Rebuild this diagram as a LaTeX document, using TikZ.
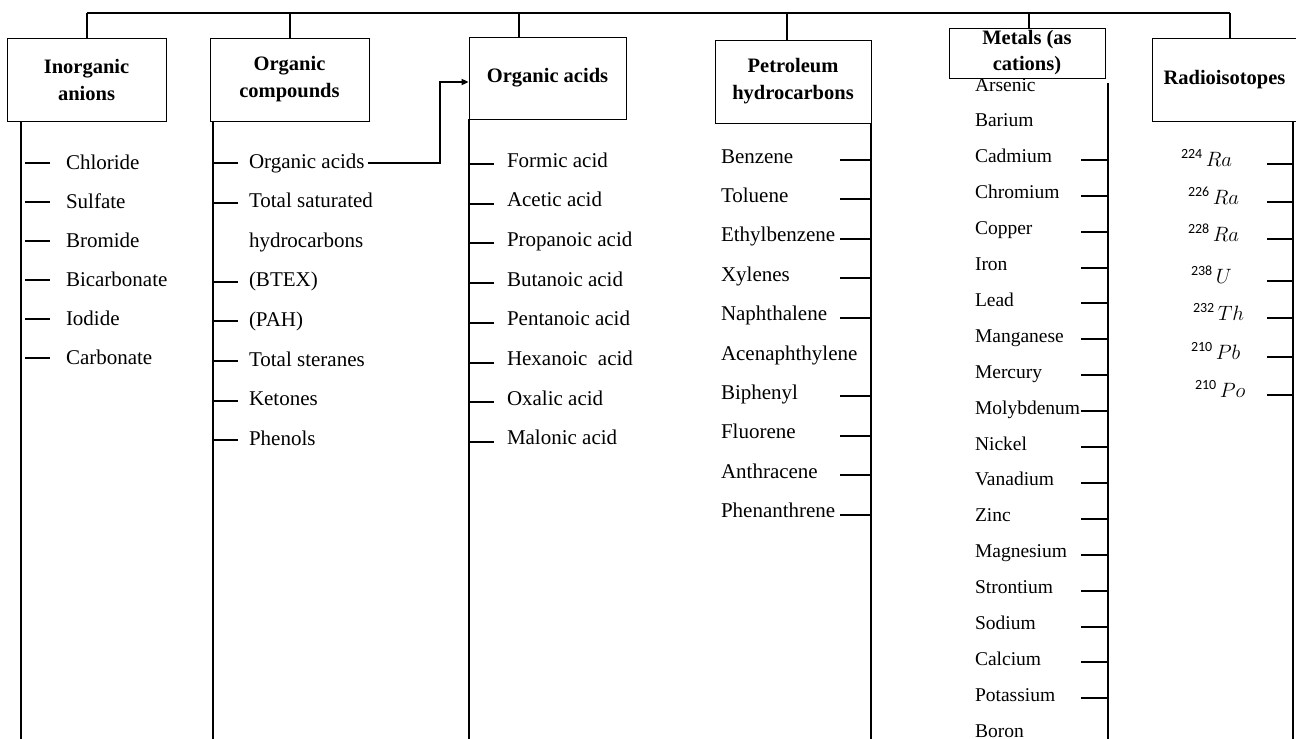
\documentclass[tikz,border=0pt]{standalone}
\usepackage{fontspec}
\setmainfont{Liberation Serif}
\newfontfamily\numfont{Carlito}
\usetikzlibrary{arrows.meta}
\begin{document}
\begin{tikzpicture}[
        x=1pt, y=-1pt,
        line width=2pt,
        header/.style={draw, line width=0.8pt, inner sep=0pt, align=center,
            font=\fontsize{20.5}{27}\selectfont\bfseries},
        entry/.style={anchor=west, inner sep=0pt, text height=12pt, text depth=0pt,
            font=\fontsize{21}{25}\selectfont},
        metal/.style={entry, font=\fontsize{19.5}{24}\selectfont},
        link/.style={-{Triangle[length=7pt,width=6pt]}},
    ]
    \useasboundingbox (0,0) rectangle (1296,739);
    \node[header, minimum width=159pt, minimum height=83pt] (inorg) at (86.5,79.5) {Inorganic\\anions};
    \node[header, minimum width=159pt, minimum height=83pt] (orgcomp) at (289.5,79.5) {Organic\\compounds};
    \node[header, minimum width=157pt, minimum height=82pt] (orgacid) at (547.5,78) {Organic acids};
    \node[header, minimum width=156pt, minimum height=83pt] (petro) at (793,81.5) {Petroleum\\hydrocarbons};
    \node[header, minimum width=156pt, minimum height=50pt,
        font=\fontsize{20.5}{26}\selectfont\bfseries] (metals) at (1027,53) {Metals (as\\cations)};
    \node[header, minimum width=145pt, minimum height=83pt] (radio) at (1224.5,79.5) {Radioisotopes};

    % top bus
    \coordinate (b1) at (87,13);
    \coordinate (b2) at (290,13);
    \coordinate (b3) at (519,13);
    \coordinate (b4) at (787,13);
    \coordinate (b5) at (1029,13);
    \coordinate (b6) at (1230,13);
    \draw (b1) -- (b6);
    \foreach \b/\n in {b1/inorg, b2/orgcomp, b3/orgacid, b4/petro, b5/metals, b6/radio}
        \draw (\b) -- (\b |- \n.north);

    % spines
    \coordinate (e1) at (21,739);
    \coordinate (e2) at (213,739);
    \coordinate (e3) at (469,739);
    \coordinate (e4) at (871,739);
    \coordinate (e5) at (1108,739);
    \coordinate (e6) at (1293,739);
    \draw (e1 |- inorg.south) -- (e1);
    \draw (e2 |- orgcomp.south) -- (e2);
    \draw (e3 |- orgacid.south) -- (e3);
    \draw (e4 |- petro.south) -- (e4);
    \draw ([yshift=-5pt]e5 |- metals.south) -- (e5);
    \draw (e6 |- radio.south) -- (e6);

    \foreach \t [count=\i from 0] in {Chloride, Sulfate, Bromide, Bicarbonate, Iodide, Carbonate}{
        \node[entry] (an\i) at (65,{163+39*\i}) {\t};
        \draw (e1 |- an\i.west) ++(4,0) -- ++(25,0);
    }

    \foreach \t/\k [count=\i from 0] in {Organic acids/1, Total saturated/1, hydrocarbons/0, (BTEX)/1,
            (PAH)/1, Total steranes/1, Ketones/1, Phenols/1}{
        \node[entry] (oc\i) at (248,{162+39.6*\i}) {\t};
        \ifnum\k=1 \draw (e2 |- oc\i.west) ++(0,1) -- ++(25,0); \fi
    }
    \draw[link] ([xshift=2pt]oc0.east) ++(0,1) -- ++(72,0) |- ([yshift=-4pt]orgacid.west);

    \foreach \t [count=\i from 0] in {Formic acid, Acetic acid, Propanoic acid, Butanoic acid,
            Pentanoic acid, Hexanoic\ \ acid, Oxalic acid, Malonic acid}{
        \node[entry] (ac\i) at (506,{161+39.7*\i}) {\t};
        \draw (e3 |- ac\i.west) ++(0,3) -- ++(25,0);
    }

    \foreach \t [count=\i from 0] in {Benzene, Toluene, Ethylbenzene, Xylenes, Naphthalene,
            Acenaphthylene, Biphenyl, Fluorene, Anthracene, Phenanthrene}{
        \node[entry] (pe\i) at (720,{157+39.4*\i}) {\t};
        \ifnum\i=5 \else \draw (e4 |- pe\i.west) ++(0,3) -- ++(-31,0); \fi
    }

    \foreach \t [count=\i from 0] in {Arsenic, Barium, Cadmium, Chromium, Copper, Iron, Lead,
            Manganese, Mercury, Molybdenum, Nickel, Vanadium, Zinc, Magnesium, Strontium,
            Sodium, Calcium, Potassium, Boron}{
        \node[metal] (me\i) at (974,{85+35.9*\i}) {\t};
        \ifnum\i>1 \ifnum\i<18 \draw (e5 |- me\i.west) ++(0,3) -- ++(-27,0); \fi\fi
    }

    \foreach \m/\el/\dx/\yy [count=\i from 0] in {224/Ra/1180/160, 226/Ra/1187/198, 228/Ra/1187/235,
            238/U/1190/277, 232/Th/1192/314, 210/Pb/1190/353, 210/Po/1194/391}{
        \node[entry] (ra\i) at (\dx,\yy) {\raisebox{8pt}{\fontsize{14}{14}\selectfont\numfont\m}\,$\el$};
        \draw (e6 |- ra\i.west) ++(0,4) -- ++(-26,0);
    }
\end{tikzpicture}
\end{document}
